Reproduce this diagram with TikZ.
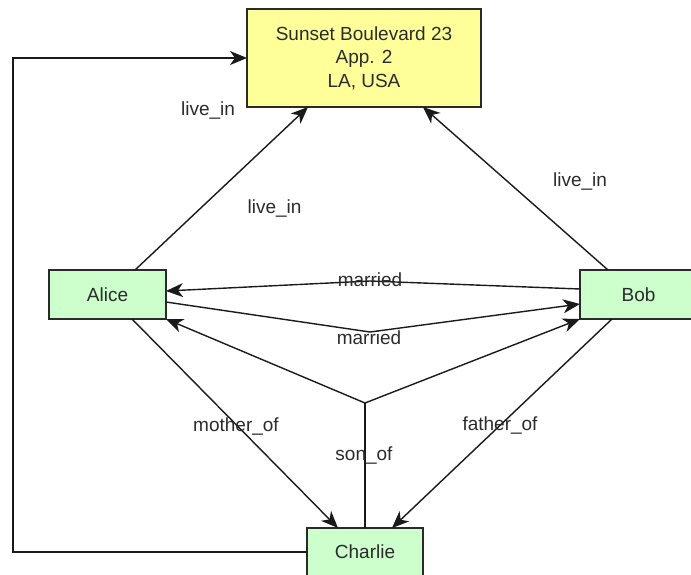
\documentclass[tikz,border=0pt]{standalone}
\usepackage{fontspec}
\setmainfont{Liberation Sans}
\usetikzlibrary{arrows.meta,calc}
\definecolor{addrfill}{HTML}{FFFF99}
\definecolor{perfill}{HTML}{CCFFCC}
\definecolor{edgecol}{HTML}{1A1A1A}
\definecolor{boxborder}{HTML}{2A2A2A}
\definecolor{textcol}{HTML}{2B2B2B}
\begin{document}
\begin{tikzpicture}[x=1pt,y=-1pt,
  box/.style={draw=boxborder, line width=1.5pt, inner sep=0pt, outer sep=0pt, align=center,
    font=\fontsize{19}{23.5}\selectfont, text=textcol},
  person/.style={box, fill=perfill, minimum width=117pt, minimum height=49pt},
  rel/.style={draw=edgecol, line width=1.4pt},
  arr/.style={rel, -{Stealth[length=17pt,width=14pt,inset=5pt]}},
  lbl/.style={font=\fontsize{19}{23}\selectfont, text=textcol, inner sep=0pt}]
\useasboundingbox (0,0) rectangle (691,574);
\clip (0,0) rectangle (691,574);

% nodes
\node[box, fill=addrfill, minimum width=234pt, minimum height=98pt] (addr) at (364,58)
  {Sunset Boulevard 23\\App. 2\\LA, USA};
\node[person] (alice) at (107.5,294.5) {Alice};
\node[person] (bob) at (638.5,294.5) {Bob};
\node[person, minimum width=116pt, minimum height=48pt] (charlie) at (365,552) {Charlie};

% helper coordinates
\coordinate (j) at (365,403);
\coordinate (lb) at (13,552);
\coordinate (lt) at (13,58);
\coordinate (m1) at (370,281);
\coordinate (m2) at (370,332);

% connectors
\draw[arr] (charlie.west) -- (lb) -- (lt) -- (addr.west);
\draw[arr] ($(alice.north)+(27.5,0)$) -- ($(addr.south west)+(61,0)$);
\draw[arr] ($(bob.north)+(-30.5,0)$) -- ($(addr.south east)+(-58,0)$);
\draw[arr] ($(bob.west)+(0,-5.5)$) -- (m1) -- ($(alice.east)+(0,-3.5)$);
\draw[arr] ($(alice.east)+(0,7.5)$) -- (m2) -- ($(bob.west)+(0,9.5)$);
\draw[arr] ($(alice.south)+(24.5,0)$) -- ($(charlie.north)+(-27,0)$);
\draw[arr] ($(bob.south)+(-26.5,0)$) -- ($(charlie.north)+(27,0)$);
\draw[rel] (charlie.north) -- (j);
\draw[arr] (j) -- (alice.south east);
\draw[arr] (j) -- (bob.south west);

% labels
\node[lbl] (l1) at (208,110) {live\_in};
\node[lbl] (l2) at (274.5,208.5) {live\_in};
\node[lbl] (l3) at (580,181.5) {live\_in};
\node[lbl] (l4) at (370,279.5) {married};
\node[lbl] (l5) at (369,337.5) {married};
\node[lbl] (l6) at (236,426) {mother\_of};
\node[lbl] (l7) at (500,425) {father\_of};
\node[lbl] (l8) at (364,456) {son\_of};
\end{tikzpicture}
\end{document}
